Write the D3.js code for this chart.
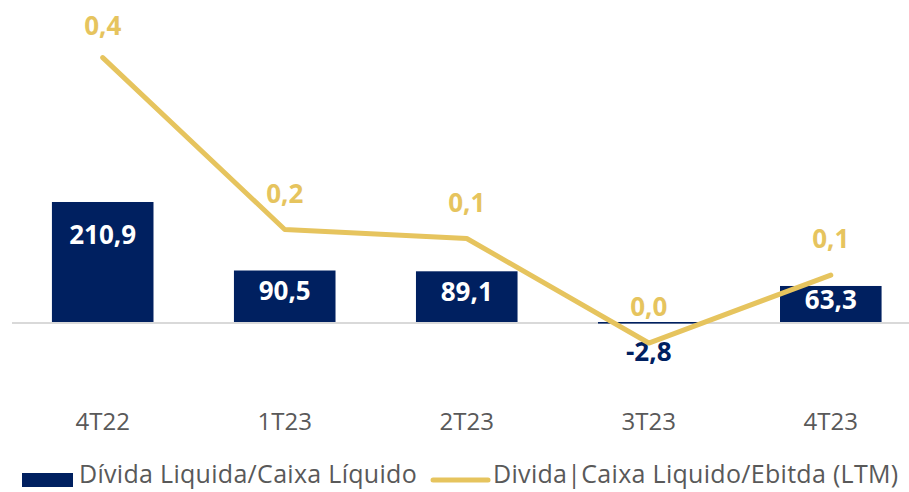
<!DOCTYPE html>
<html>
<head>
<meta charset="utf-8">
<script src="https://cdn.jsdelivr.net/npm/d3@7"></script>
<style>
  body { margin: 0; background: #fff; }
  svg { display: block; font-family: "Open Sans", sans-serif; }
</style>
</head>
<body>
<svg id="chart"></svg>
<script>
// dados
const categories = ['4T22', '1T23', '2T23', '3T23', '4T23'];
const dividaLiquida = [210.9, 90.5, 89.1, -2.8, 63.3];
const dividaEbitda = [0.44, 0.154, 0.139, -0.035, 0.078];
const legendLabels = ['Dívida Liquida/Caixa Líquido', 'Divida|Caixa Liquido/Ebitda (LTM)'];

const w = 909, h = 492;
const navy = '#002060', gold = '#E6C45E', gray = '#595959';

const locale = d3.formatLocale({ decimal: ',', thousands: '.', grouping: [3], currency: ['R$', ''], minus: '-' });
const fmt = locale.format('.1f');

const svg = d3.select('#chart').attr('width', w).attr('height', h);

const zeroY = 322;

const x = d3.scaleBand()
  .domain(categories)
  .range([11.7, 921.8])
  .paddingInner(0.442)
  .paddingOuter(0.221);

// eixo primario (barras)
const yBar = d3.scaleLinear().domain([0, 100]).range([zeroY, zeroY - 56.9]);
// eixo secundario (linha)
const yLine = d3.scaleLinear().domain([0, 0.1]).range([zeroY, zeroY - 60.1]);

// linha base
svg.append('line')
  .attr('x1', 12).attr('x2', w)
  .attr('y1', zeroY + 1).attr('y2', zeroY + 1)
  .attr('stroke', '#d9d9d9').attr('stroke-width', 2);

// barras
svg.selectAll('rect.bar')
  .data(dividaLiquida)
  .enter()
  .append('rect')
  .attr('class', 'bar')
  .attr('x', (d, i) => x(categories[i]))
  .attr('width', x.bandwidth())
  .attr('y', d => Math.min(yBar(d), yBar(0)))
  .attr('height', d => Math.abs(yBar(d) - yBar(0)))
  .attr('fill', navy);

// rotulos das barras
svg.selectAll('text.barLabel')
  .data(dividaLiquida)
  .enter()
  .append('text')
  .attr('class', 'barLabel')
  .attr('x', (d, i) => x(categories[i]) + x.bandwidth() / 2)
  .attr('y', d => {
    if (d < 0) return yBar(d) + 28;
    const hh = yBar(0) - yBar(d);
    return yBar(d) + Math.min(33, hh * 0.4);
  })
  .attr('dy', '0.35em')
  .attr('text-anchor', 'middle')
  .attr('font-size', 26)
  .attr('font-weight', 700)
  .attr('fill', d => d < 0 ? navy : '#fff')
  .text(d => fmt(d));

// linha
const line = d3.line()
  .x((d, i) => x(categories[i]) + x.bandwidth() / 2)
  .y(d => yLine(d));

svg.append('path')
  .datum(dividaEbitda)
  .attr('d', line)
  .attr('fill', 'none')
  .attr('stroke', gold)
  .attr('stroke-width', 5)
  .attr('stroke-linecap', 'round')
  .attr('stroke-linejoin', 'round');

svg.selectAll('text.lineLabel')
  .data(dividaEbitda)
  .enter()
  .append('text')
  .attr('class', 'lineLabel')
  .attr('x', (d, i) => x(categories[i]) + x.bandwidth() / 2)
  .attr('y', d => Math.max(26, yLine(d) - 36))
  .attr('dy', '0.35em')
  .attr('text-anchor', 'middle')
  .attr('font-size', 26)
  .attr('font-weight', 700)
  .attr('fill', gold)
  .text(d => fmt(d));

// eixo x
const xAxis = d3.axisBottom(x).tickSize(0).tickPadding(0);
const gx = svg.append('g')
  .attr('transform', `translate(0,${zeroY})`)
  .call(xAxis);
gx.select('.domain').remove();
gx.selectAll('text')
  .attr('y', 100)
  .attr('dy', '0.35em')
  .attr('font-size', 24)
  .attr('font-family', '"Open Sans", sans-serif')
  .attr('fill', gray);

// legenda
const legY = 480;
const leg = svg.append('g');
leg.append('rect')
  .attr('x', 22).attr('y', legY - 7)
  .attr('width', 51).attr('height', 14)
  .attr('fill', navy);
const t1 = leg.append('text')
  .attr('x', 79).attr('y', 483)
  .attr('font-size', 25)
  .attr('letter-spacing', 0.3)
  .attr('fill', gray)
  .text(legendLabels[0]);
const lx = 79 + t1.node().getComputedTextLength() + 16;
leg.append('line')
  .attr('x1', lx).attr('x2', lx + 55)
  .attr('y1', legY).attr('y2', legY)
  .attr('stroke', gold).attr('stroke-width', 5)
  .attr('stroke-linecap', 'round');
leg.append('text')
  .attr('x', lx + 60).attr('y', 483)
  .attr('font-size', 25)
  .attr('letter-spacing', 0.3)
  .attr('fill', gray)
  .text(legendLabels[1]);
</script>
</body>
</html>
